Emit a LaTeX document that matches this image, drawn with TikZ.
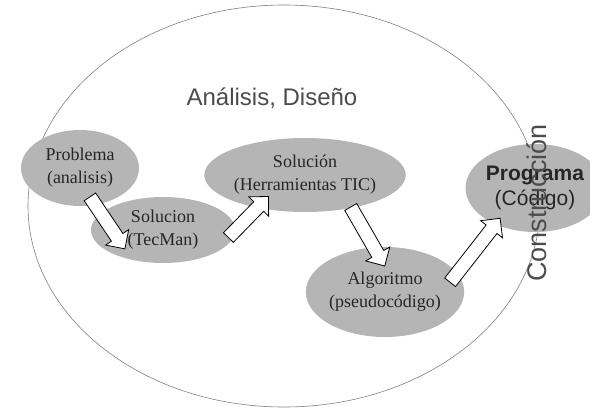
\documentclass[tikz,border=0pt]{standalone}
\usepackage{fontspec}
\setmainfont{Liberation Serif}
\setsansfont{Liberation Sans}
\usetikzlibrary{shapes.geometric, shapes.arrows, calc}

\tikzset{
  etapa/.style={ellipse, fill=gray!58, inner sep=0pt, align=center,
    text=black!85, font=\fontsize{18}{23}\selectfont},
  titulo/.style={text=black!70, font=\sffamily\fontsize{24}{28}\selectfont},
  bloque/.style={single arrow, draw=black, fill=white, line width=0.8pt,
    inner sep=6.5pt, single arrow head extend=7pt, single arrow head indent=0pt}
}

\begin{document}
\begin{tikzpicture}[x=1pt, y=-1pt]
    \useasboundingbox (0,0) rectangle (590,408);

    % Analisis, Diseno
    \draw[gray, line width=0.6pt] (284,206) ellipse [x radius=256pt, y radius=201pt];
    \node[titulo] (ad) at (272,98) {Análisis, Diseño};

    % Etapas
    \node[etapa, minimum width=118pt, minimum height=76pt] (prob) at (80,168) {Problema\\(analisis)};
    \node[etapa, minimum width=144pt, minimum height=66pt] (tecman) at (163,230) {Solucion\\(TecMan)};
    \node[etapa, minimum width=180pt, minimum height=74pt] (tic) at (305,175) {Solución\\(Herramientas TIC)};
    \node[etapa, minimum width=154pt, minimum height=90pt] (algo) at (385,292) {Algoritmo\\(pseudocódigo)};
    \node[etapa, minimum width=130pt, minimum height=88pt, font=\sffamily\fontsize{21}{25}\selectfont]
        (prog) at (535,188) {\textbf{Programa}\\(Código)};

    % Flechas
    \coordinate (f1a) at (88,194);  \coordinate (f1b) at (123,246);
    \coordinate (f2a) at (226,240); \coordinate (f2b) at (266,199);
    \coordinate (f3a) at (349,204); \coordinate (f3b) at (383,263);
    \coordinate (f4a) at (448,285); \coordinate (f4b) at (498,221);
    \path let \p1=(f1a), \p2=(f1b), \n1={atan2(\y2-\y1,\x2-\x1)}, \n2={veclen(\x2-\x1,\y2-\y1)}
        in node[bloque, rotate=\n1, minimum height=\n2] at ($(f1a)!0.5!(f1b)$) {};
    \path let \p1=(f2a), \p2=(f2b), \n1={atan2(\y2-\y1,\x2-\x1)}, \n2={veclen(\x2-\x1,\y2-\y1)}
        in node[bloque, rotate=\n1, minimum height=\n2] at ($(f2a)!0.5!(f2b)$) {};
    \path let \p1=(f3a), \p2=(f3b), \n1={atan2(\y2-\y1,\x2-\x1)}, \n2={veclen(\x2-\x1,\y2-\y1)}
        in node[bloque, rotate=\n1, minimum height=\n2] at ($(f3a)!0.5!(f3b)$) {};
    \path let \p1=(f4a), \p2=(f4b), \n1={atan2(\y2-\y1,\x2-\x1)}, \n2={veclen(\x2-\x1,\y2-\y1)}
        in node[bloque, rotate=\n1, minimum height=\n2] at ($(f4a)!0.5!(f4b)$) {};

    % Construccion
    \node[titulo, rotate=90, font=\sffamily\fontsize{27}{30}\selectfont] (cons) at (537,203) {Construcción};
\end{tikzpicture}
\end{document}
